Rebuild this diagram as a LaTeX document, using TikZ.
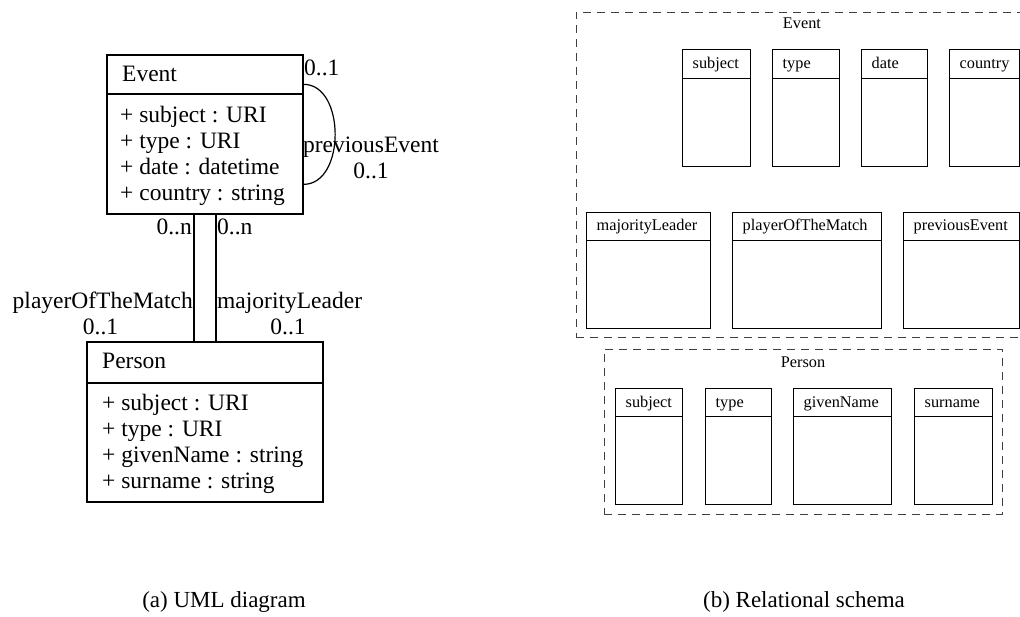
\documentclass[tikz,border=0pt]{standalone}
\usepackage{fontspec}
\setmainfont{Liberation Serif}
\newcommand\umlfont{\fontsize{23.5}{26}\selectfont}
\newcommand\relfont{\fontsize{16.3}{19}\selectfont}
\newcommand\capfont{\fontsize{23}{26}\selectfont}
% one column of a relational table: x0, x1, top, divider, bottom, label, name
\newcommand\relcol[7]{%
  \node[colbox, minimum width={#2-#1}, minimum height={#5-#3}] (#7) at ({(#1+#2)/2},{(#3+#5)/2}) {};
  \draw[colline] (#1,#4) -- (#2,#4);
  \node[reltext, anchor=base west] at (#1+10.5,#4-9) {#6};
}
\tikzset{
  classbox/.style={draw, line width=1.3pt, inner sep=0pt},
  classline/.style={line width=1.3pt},
  assoc/.style={line width=1.2pt},
  umltext/.style={font=\umlfont, inner sep=0pt},
  colbox/.style={draw, line width=0.9pt, inner sep=0pt},
  colline/.style={line width=0.9pt},
  reltext/.style={font=\relfont, inner sep=0pt},
  groupbox/.style={draw=black!75, line width=0.9pt, dash pattern=on 8pt off 6pt},
  captext/.style={font=\capfont, inner sep=0pt, anchor=base},
}
\begin{document}
\begin{tikzpicture}[x=1pt, y=-1pt]
\useasboundingbox (0,0) rectangle (1020,617);
\clip (0,0) rectangle (1020,617);

% ---------- UML class diagram ----------
\node[classbox, minimum width=196pt, minimum height=159pt] (event) at (205,134.5) {};
\draw[classline] (event.west |- 0,94) -- (event.east |- 0,94);
\node[umltext, anchor=base west] (eventname) at (122,82) {Event};
\node[umltext, anchor=base west] (ea1) at (120,123) {+ subject : URI};
\node[umltext, anchor=base west] (ea2) at (120,149) {+ type : URI};
\node[umltext, anchor=base west] (ea3) at (120,175) {+ date : datetime};
\node[umltext, anchor=base west] (ea4) at (120,201) {+ country : string};

\node[classbox, minimum width=236pt, minimum height=160pt] (person) at (205,422) {};
\draw[classline] (person.west |- 0,383) -- (person.east |- 0,383);
\node[umltext, anchor=base west] (personname) at (102,369) {Person};
\node[umltext, anchor=base west] (pa1) at (102,410) {+ subject : URI};
\node[umltext, anchor=base west] (pa2) at (102,436) {+ type : URI};
\node[umltext, anchor=base west] (pa3) at (102,462) {+ givenName : string};
\node[umltext, anchor=base west] (pa4) at (102,488) {+ surname : string};

% associations
\draw[assoc] ([xshift=-11pt]event.south) -- ([xshift=-11pt]person.north);
\draw[assoc] ([xshift=11pt]event.south) -- ([xshift=11pt]person.north);
\draw[assoc] ([yshift=-30pt]event.north east)
  .. controls +(42,0) and +(42,0) .. ([yshift=-130pt]event.north east);

% association labels
\node[umltext, anchor=base west] (prevsrc) at (304,76) {0..1};
\node[umltext, anchor=base] (prevname) at (371,153) {previousEvent};
\node[umltext, anchor=base] (prevmult) at (371,179) {0..1};
\node[umltext, anchor=base east] (pomsrc) at (192,235) {0..n};
\node[umltext, anchor=base west] (mlsrc) at (217,235) {0..n};
\node[umltext, anchor=base east] (pomname) at (193,309) {playerOfTheMatch};
\node[umltext, anchor=base west] (mlname) at (217,309) {majorityLeader};
\node[umltext, anchor=base] (pommult) at (100.5,335) {0..1};
\node[umltext, anchor=base] (mlmult) at (288,335) {0..1};

% ---------- relational schema ----------
\node[groupbox, inner sep=0pt, minimum width=454pt, minimum height=325pt] (eventtbl) at (803,174.5) {};
\node[reltext, anchor=base] (eventtitle) at (802,29) {Event};
\relcol{682}{750}{49}{78}{166}{subject}{ecsubject}
\relcol{772}{839}{49}{78}{166}{type}{ectype}
\relcol{861}{927}{49}{78}{166}{date}{ecdate}
\relcol{949}{1019}{49}{78}{166}{country}{eccountry}
\relcol{586}{710}{212}{240}{328}{majorityLeader}{ecleader}
\relcol{732}{881}{212}{240}{328}{playerOfTheMatch}{ecplayer}
\relcol{903}{1019}{212}{240}{328}{previousEvent}{ecprevious}

\node[groupbox, inner sep=0pt, minimum width=398pt, minimum height=165pt] (persontbl) at (803,431.5) {};
\node[reltext, anchor=base] (persontitle) at (803,368) {Person};
\relcol{615}{682}{388}{416}{504}{subject}{pcsubject}
\relcol{705}{771}{388}{416}{504}{type}{pctype}
\relcol{793}{891}{388}{416}{504}{givenName}{pcgiven}
\relcol{914}{992}{388}{416}{504}{surname}{pcsurname}

% ---------- captions ----------
\node[captext] (capa) at (224,607) {(a) UML diagram};
\node[captext] (capb) at (804,607) {(b) Relational schema};
\end{tikzpicture}
\end{document}
